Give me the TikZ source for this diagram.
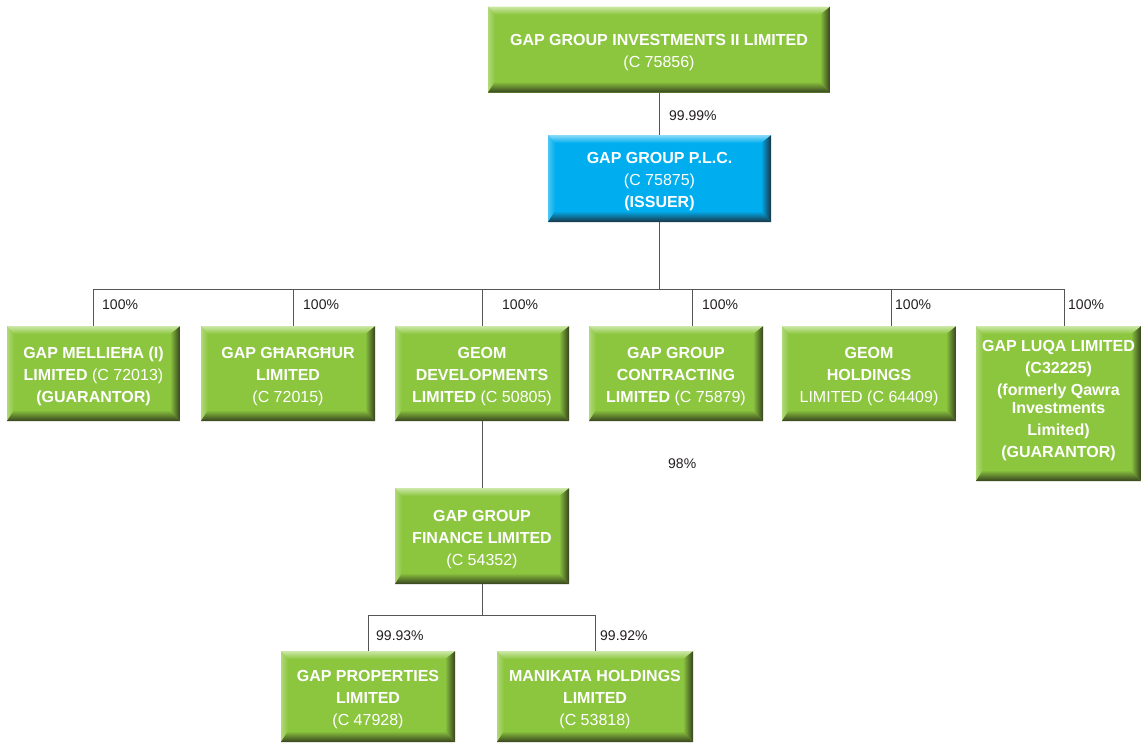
\documentclass[tikz,border=0pt]{standalone}
\usepackage{fontspec}
\setmainfont{Liberation Sans}
\definecolor{gmain}{HTML}{8CC63F}
\definecolor{glight}{HTML}{CDE8A8}
\definecolor{gdark}{HTML}{36421E}
\definecolor{bmain}{HTML}{00AEEF}
\definecolor{blight}{HTML}{8ADAF8}
\definecolor{bdark}{HTML}{1A3442}
\definecolor{linec}{HTML}{555555}
\definecolor{pctc}{HTML}{231F20}
\newcommand\boxstrut{\rule{0pt}{18pt}}
\newcommand\boxdepth{\rule[-9.5pt]{0pt}{1pt}}
\tikzset{
  bevelbox/.style n args={3}{draw=none, fill=#1, text=white, align=center, inner sep=0pt,
    font=\fontsize{16}{22}\selectfont,
    path picture={
      \coordinate (pp-sw) at (path picture bounding box.south west);
      \coordinate (pp-se) at (path picture bounding box.south east);
      \coordinate (pp-nw) at (path picture bounding box.north west);
      \coordinate (pp-ne) at (path picture bounding box.north east);
      \shade[left color=#2!55!#1, right color=#1] (pp-nw) -- (pp-sw) -- ([xshift=7pt,yshift=11pt]pp-sw) -- ([xshift=7pt,yshift=-8pt]pp-nw) -- cycle;
      \shade[top color=#1, bottom color=#3] (pp-sw) -- (pp-se) -- ([xshift=-10pt,yshift=11pt]pp-se) -- ([xshift=7pt,yshift=11pt]pp-sw) -- cycle;
      \shade[left color=#1, right color=#3] (pp-se) -- (pp-ne) -- ([xshift=-10pt,yshift=-8pt]pp-ne) -- ([xshift=-10pt,yshift=11pt]pp-se) -- cycle;
      \shade[top color=#2, bottom color=#1] (pp-nw) -- (pp-ne) -- ([xshift=-10pt,yshift=-8pt]pp-ne) -- ([xshift=7pt,yshift=-8pt]pp-nw) -- cycle;
    }},
  gbox/.style={bevelbox={gmain}{glight}{gdark}},
  bbox/.style={bevelbox={bmain}{blight}{bdark}},
  conn/.style={draw=linec, line width=1pt},
  pct/.style={text=pctc, inner sep=0pt, anchor=west, font=\fontsize{14}{16}\selectfont},
}
\begin{document}
\begin{tikzpicture}[x=1pt, y=-1pt]
\useasboundingbox (0,0) rectangle (1141,742);
% boxes
\node[gbox, minimum width=342, minimum height=86] (top) at (659,49.5)
  {\boxstrut\textbf{GAP GROUP INVESTMENTS II LIMITED}\\(C 75856)};
\node[bbox, minimum width=223, minimum height=87] (issuer) at (659.5,178.5)
  {\boxstrut\textbf{GAP GROUP P.L.C.}\\(C 75875)\\\textbf{(ISSUER)}};
\node[gbox, minimum width=173, minimum height=95] (b1) at (93.5,373.5)
  {\boxstrut\textbf{GAP MELLIEĦA (I)}\\\textbf{LIMITED} (C 72013)\\\textbf{(GUARANTOR)}};
\node[gbox, minimum width=174, minimum height=95] (b2) at (288,373.5)
  {\boxstrut\textbf{GAP GĦARGĦUR}\\\textbf{LIMITED}\\(C 72015)};
\node[gbox, minimum width=174, minimum height=95] (b3) at (482,373.5)
  {\boxstrut\textbf{GEOM}\\\textbf{DEVELOPMENTS}\\\textbf{LIMITED} (C 50805)};
\node[gbox, minimum width=174, minimum height=95] (b4) at (676,373.5)
  {\boxstrut\textbf{GAP GROUP}\\\textbf{CONTRACTING}\\\textbf{LIMITED} (C 75879)};
\node[gbox, minimum width=174, minimum height=95] (b5) at (869,373.5)
  {\boxstrut\textbf{GEOM}\\\textbf{HOLDINGS}\\LIMITED (C 64409)};
\node[gbox, minimum width=165, minimum height=155] (b6) at (1058.5,403.5)
  {\textbf{GAP LUQA LIMITED}\\\textbf{(C32225)}\\\textbf{(formerly Qawra}\\[-4pt]\textbf{Investments}\\\textbf{Limited)}\\\textbf{(GUARANTOR)}\boxdepth};
\node[gbox, minimum width=174, minimum height=96] (fin) at (482,536)
  {\boxstrut\textbf{GAP GROUP}\\\textbf{FINANCE LIMITED}\\(C 54352)};
\node[gbox, minimum width=174, minimum height=91] (p1) at (368,696.5)
  {\boxstrut\textbf{GAP PROPERTIES}\\\textbf{LIMITED}\\(C 47928)};
\node[gbox, minimum width=196, minimum height=91] (p2) at (595,696.5)
  {\boxstrut\textbf{MANIKATA HOLDINGS}\\\textbf{LIMITED}\\(C 53818)};
% connectors
\draw[conn] (top.south) -- (top.south |- issuer.north);
\coordinate (busC) at (659,289);
\coordinate (busL) at (93.5,289);
\coordinate (busR) at (1064,289);
\coordinate (v2) at (293,289);
\coordinate (v3) at (482,289);
\coordinate (v4) at (692,289);
\coordinate (v5) at (891,289);
\draw[conn] (issuer.south) -- (issuer.south |- busC);
\draw[conn] (busL) -- (busR);
\draw[conn] (busL) -- (b1.north);
\draw[conn] (v2) -- (v2 |- b2.north);
\draw[conn] (v3) -- (b3.north);
\draw[conn] (v4) -- (v4 |- b4.north);
\draw[conn] (v5) -- (v5 |- b5.north);
\draw[conn] (busR) -- (busR |- b6.north);
\draw[conn] (b3.south) -- (fin.north);
\coordinate (fbus) at (482,615);
\draw[conn] (fin.south) -- (fbus);
\draw[conn] (p1.north |- fbus) -- (p2.north |- fbus);
\draw[conn] (p1.north |- fbus) -- (p1.north);
\draw[conn] (p2.north |- fbus) -- (p2.north);
% labels
\node[pct] (l0) at (669,116) {99.99\%};
\node[pct] (l1) at (102,305) {100\%};
\node[pct] (l2) at (303,305) {100\%};
\node[pct] (l3) at (502,305) {100\%};
\node[pct] (l4) at (702,305) {100\%};
\node[pct] (l5) at (895,305) {100\%};
\node[pct] (l6) at (1068,305) {100\%};
\node[pct] (l7) at (668,464) {98\%};
\node[pct] (l8) at (376,636) {99.93\%};
\node[pct] (l9) at (600,636) {99.92\%};
\end{tikzpicture}
\end{document}
